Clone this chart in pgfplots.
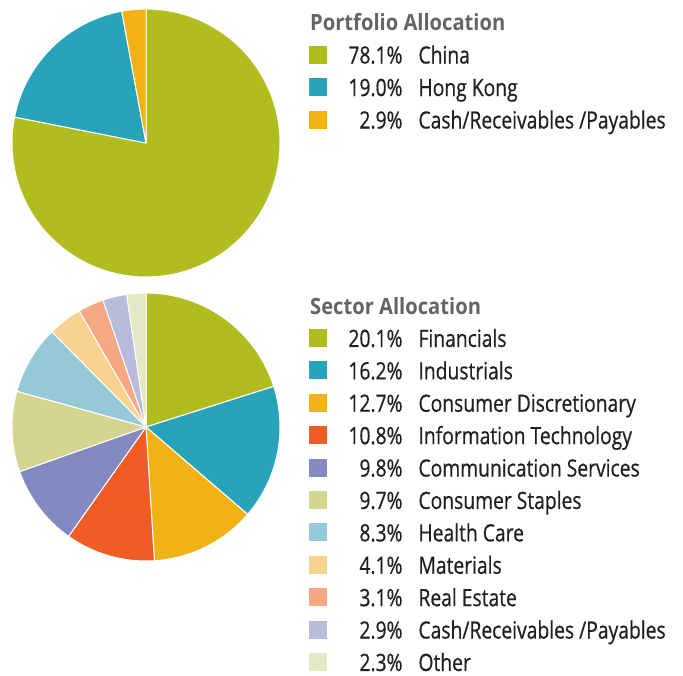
\documentclass[border=0pt]{standalone}
\usepackage{pgfplots}
\pgfplotsset{compat=1.18}
\usepackage{pgfplotstable}
\usepackage{fontspec}
\setmainfont{Open Sans}[FakeStretch=0.81, FakeBold=0.6]
\newfontfamily\titlefont{Open Sans}[FakeStretch=0.9]

\definecolor{cGreen}{HTML}{B1BD1F}
\definecolor{cTeal}{HTML}{27A3BA}
\definecolor{cGold}{HTML}{F1B215}
\definecolor{cRed}{HTML}{F15B24}
\definecolor{cPurple}{HTML}{8489C1}
\definecolor{cKhaki}{HTML}{D4D68F}
\definecolor{cLblue}{HTML}{95C8D8}
\definecolor{cPeach}{HTML}{F8D38F}
\definecolor{cSalmon}{HTML}{F6A883}
\definecolor{cLav}{HTML}{B8BBDC}
\definecolor{cPale}{HTML}{E5E8C4}
\definecolor{cText}{HTML}{231F20}
\definecolor{cTitle}{HTML}{636466}

\pgfplotstableread{
pct col
78.1 cGreen
19.0 cTeal
2.9 cGold
}\portfolio

\pgfplotstableread{
pct col
20.1 cGreen
16.2 cTeal
12.7 cGold
10.8 cRed
9.8 cPurple
9.7 cKhaki
8.3 cLblue
4.1 cPeach
3.1 cSalmon
2.9 cLav
2.3 cPale
}\sector

\newcommand\pieslices[1]{%
  \pgfplotstablegetrowsof{#1}%
  \pgfmathtruncatemacro\nrows{\pgfplotsretval-1}%
  \def\cum{0}%
  \pgfplotsforeachungrouped \i in {0,...,\nrows}{%
    \pgfplotstablegetelem{\i}{pct}\of{#1}\let\pct\pgfplotsretval
    \pgfplotstablegetelem{\i}{col}\of{#1}\let\col\pgfplotsretval
    \pgfmathsetmacro\sa{90-3.6*\cum}%
    \pgfmathsetmacro\ea{90-3.6*(\cum+\pct)}%
    \edef\temp{\noexpand\filldraw[fill=\col, draw=white, line width=1pt, line join=round]
      (axis cs:0,0) -- (axis cs:{cos(\sa)},{sin(\sa)}) arc[start angle=\sa, end angle=\ea, radius=134pt] -- cycle;}%
    \temp
    \pgfmathsetmacro\cum{\cum+\pct}%
  }%
}
\newcommand\entry[2]{\makebox[76pt][r]{#1\%}\hspace{16pt}#2}

\pgfplotsset{
  piestyle/.style={
    anchor=center, x=134pt, y=134pt, xmin=-1, xmax=1, ymin=-1, ymax=1,
    hide axis, clip=false,
    legend image code/.code={\path[##1] (0pt,0pt) rectangle (18pt,18pt);},
    legend style={anchor=north west, draw=none, fill=none, inner sep=0pt,
      row sep=0pt, column sep=0pt, cells={anchor=base west},
      nodes={inner sep=0pt, text height=20pt, text depth=12.5pt, text=cText,
        font=\fontsize{23.8pt}{26pt}\selectfont}},
  }
}

\begin{document}
\begin{tikzpicture}
\path[use as bounding box] (0pt,0pt) rectangle (683pt,-675pt);

\begin{axis}[piestyle, at={(146pt,-143pt)},
  legend style={at={(1.1056,0.872)}}]
\pieslices{\portfolio}
\addlegendimage{fill=cGreen, draw=none}\addlegendentry{\entry{78.1}{China}}
\addlegendimage{fill=cTeal, draw=none}\addlegendentry{\entry{19.0}{Hong Kong}}
\addlegendimage{fill=cGold, draw=none}\addlegendentry{\entry{2.9}{Cash/Receivables /Payables}}
\end{axis}

\begin{axis}[piestyle, at={(146pt,-427pt)},
  legend style={at={(1.1056,0.8965)}, nodes={text height=26pt, text depth=6.4pt}}]
\pieslices{\sector}
\addlegendimage{fill=cGreen, draw=none}\addlegendentry{\entry{20.1}{Financials}}
\addlegendimage{fill=cTeal, draw=none}\addlegendentry{\entry{16.2}{Industrials}}
\addlegendimage{fill=cGold, draw=none}\addlegendentry{\entry{12.7}{Consumer Discretionary}}
\addlegendimage{fill=cRed, draw=none}\addlegendentry{\entry{10.8}{Information Technology}}
\addlegendimage{fill=cPurple, draw=none}\addlegendentry{\entry{9.8}{Communication Services}}
\addlegendimage{fill=cKhaki, draw=none}\addlegendentry{\entry{9.7}{Consumer Staples}}
\addlegendimage{fill=cLblue, draw=none}\addlegendentry{\entry{8.3}{Health Care}}
\addlegendimage{fill=cPeach, draw=none}\addlegendentry{\entry{4.1}{Materials}}
\addlegendimage{fill=cSalmon, draw=none}\addlegendentry{\entry{3.1}{Real Estate}}
\addlegendimage{fill=cLav, draw=none}\addlegendentry{\entry{2.9}{Cash/Receivables /Payables}}
\addlegendimage{fill=cPale, draw=none}\addlegendentry{\entry{2.3}{Other}}
\end{axis}

\node[anchor=base west, inner sep=0pt, text=cTitle, font=\titlefont\bfseries\fontsize{22.4pt}{24pt}\selectfont] at (310pt,-30pt) {Portfolio Allocation};
\node[anchor=base west, inner sep=0pt, text=cTitle, font=\titlefont\bfseries\fontsize{22.4pt}{24pt}\selectfont] at (310pt,-314pt) {Sector Allocation};
\end{tikzpicture}
\end{document}
